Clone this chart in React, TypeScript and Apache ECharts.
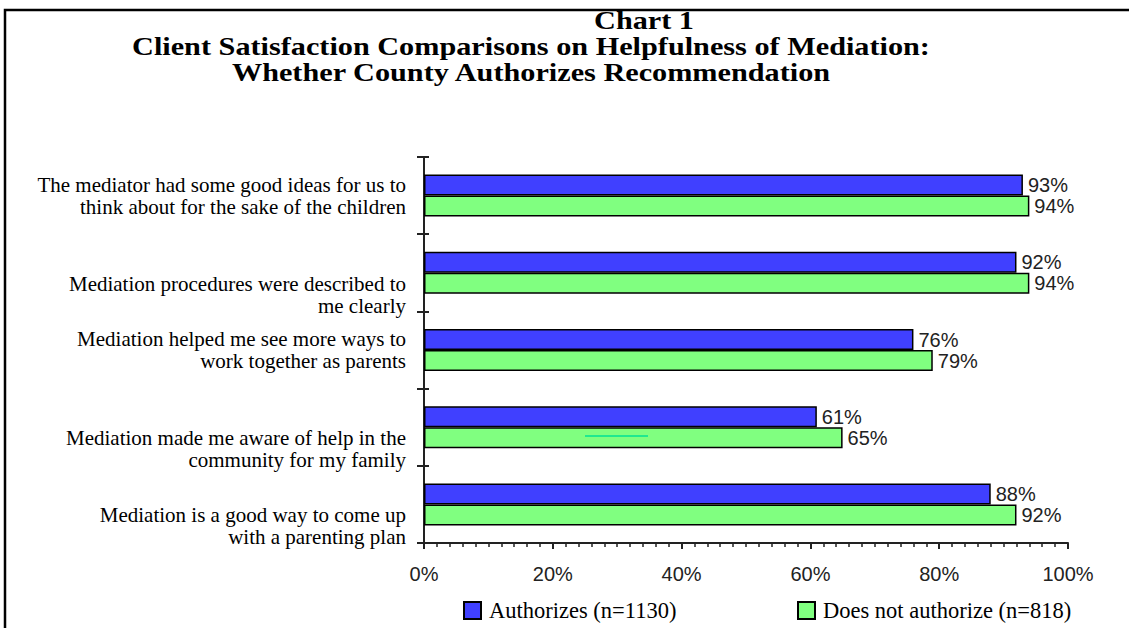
import React, { useEffect, useRef } from "react";
import * as echarts from "echarts";

// ---- data ----
const categories = [
  "The mediator had some good ideas for us to\nthink about for the sake of the children",
  "Mediation procedures were described to\nme clearly",
  "Mediation helped me see more ways to\nwork together as parents",
  "Mediation made me aware of help in the\ncommunity for my family",
  "Mediation is a good way to come up\nwith a parenting plan",
];
const authorizes = [93, 92, 76, 61, 88];
const doesNotAuthorize = [94, 94, 79, 65, 92];
const seriesNames = ["Authorizes (n=1130)", "Does not authorize (n=818)"];
const xMin = 0;
const xMax = 100;
const xInterval = 20;
const titleLines = [
  "Chart 1",
  "Client Satisfaction Comparisons on Helpfulness of Mediation:",
  "Whether County Authorizes Recommendation",
];

// ---- styling: empty lines pushed above a label to shift it down ----
const labelShiftLines = [0, 2, 0, 2, 2];
const BLUE = "#4040FF";
const GREEN = "#80FF80";
const INK = "#222";

export default function App() {
  const ref = useRef<HTMLDivElement>(null);

  useEffect(() => {
    if (!ref.current) return;
    const chart = echarts.init(ref.current, null, { renderer: "svg" });

    const valueLabel = {
      show: true,
      position: "right",
      distance: 5,
      formatter: "{c}%",
      fontFamily: "Liberation Sans",
      fontSize: 20,
      color: INK,
    };

    const legendText = {
      fontFamily: "Liberation Serif",
      fontSize: 22.5,
      color: "#000",
      padding: [0, 0, 0, 3],
    };

    const titleStyle = (text: string) => ({
      text,
      fontFamily: "Liberation Serif",
      fontWeight: "bold",
      fontSize: 25,
      fill: "#000",
      align: "center",
      verticalAlign: "middle",
    });

    const option: any = {
      animation: false,
      backgroundColor: "#fff",
      grid: { left: 424, right: 61, top: 157, bottom: 85, containLabel: false },
      xAxis: {
        type: "value",
        min: xMin,
        max: xMax,
        interval: xInterval,
        axisLine: { show: true, lineStyle: { color: INK, width: 2 } },
        axisTick: { show: true, length: 6, lineStyle: { color: INK, width: 2 } },
        minorTick: { show: true, splitNumber: 10, length: 4, lineStyle: { color: INK, width: 1.5 } },
        splitLine: { show: false },
        minorSplitLine: { show: false },
        axisLabel: {
          formatter: "{value}%",
          fontFamily: "Liberation Sans",
          fontSize: 20,
          color: INK,
          margin: 21,
        },
      },
      yAxis: [
        {
          type: "category",
          inverse: true,
          data: categories,
          axisLine: { show: true, lineStyle: { color: INK, width: 2 } },
          axisTick: { show: true, length: 7, lineStyle: { color: INK, width: 2 } },
          splitLine: { show: false },
          axisLabel: {
            interval: 0,
            fontFamily: "Liberation Serif",
            fontSize: 21,
            lineHeight: 22,
            color: "#000",
            margin: 18,
            align: "right",
            formatter: (value: string, index: number) =>
              "\n".repeat(labelShiftLines[index] || 0) + value,
          },
        },
        {
          type: "category",
          inverse: true,
          position: "left",
          data: categories,
          axisLine: { show: false },
          axisTick: { show: true, inside: true, length: 5, lineStyle: { color: INK, width: 2 } },
          axisLabel: { show: false },
          splitLine: { show: false },
        },
      ],
      legend: [
        {
          data: [seriesNames[0]],
          left: 463,
          top: 599,
          padding: 0,
          itemWidth: 17,
          itemHeight: 17,
          icon: "rect",
          textStyle: legendText,
        },
        {
          data: [seriesNames[1]],
          left: 797,
          top: 599,
          padding: 0,
          itemWidth: 17,
          itemHeight: 17,
          icon: "rect",
          textStyle: legendText,
        },
      ],
      series: [
        {
          name: seriesNames[0],
          type: "bar",
          yAxisIndex: 0,
          data: authorizes,
          barWidth: 21,
          barGap: "0%",
          itemStyle: { color: BLUE, borderColor: "#000", borderWidth: 1.5 },
          label: valueLabel,
        },
        {
          name: seriesNames[1],
          type: "bar",
          yAxisIndex: 0,
          data: doesNotAuthorize,
          barWidth: 21,
          barGap: "0%",
          itemStyle: { color: GREEN, borderColor: "#000", borderWidth: 1.5 },
          label: valueLabel,
        },
      ],
      graphic: [
        {
          type: "polyline",
          z: 100,
          shape: { points: [[5, 628], [5, 10], [1129, 10]] },
          style: { stroke: "#000", lineWidth: 2.5, fill: null },
          silent: true,
        },
        { type: "text", z: 100, x: 644, y: 20, scaleX: 1.21, style: titleStyle(titleLines[0]) },
        { type: "text", z: 100, x: 531, y: 46, scaleX: 1.21, style: titleStyle(titleLines[1]) },
        { type: "text", z: 100, x: 531, y: 72, scaleX: 1.21, style: titleStyle(titleLines[2]) },
        {
          type: "line",
          z: 100,
          shape: { x1: 585, y1: 436, x2: 648, y2: 436 },
          style: { stroke: "#20E890", lineWidth: 2 },
          silent: true,
        },
      ],
    };

    chart.setOption(option);
    return () => {
      chart.dispose();
    };
  }, []);

  return (
    <div
      ref={ref}
      style={{ position: "absolute", left: 0, top: 0, width: 1129, height: 628, background: "#fff" }}
    />
  );
}
